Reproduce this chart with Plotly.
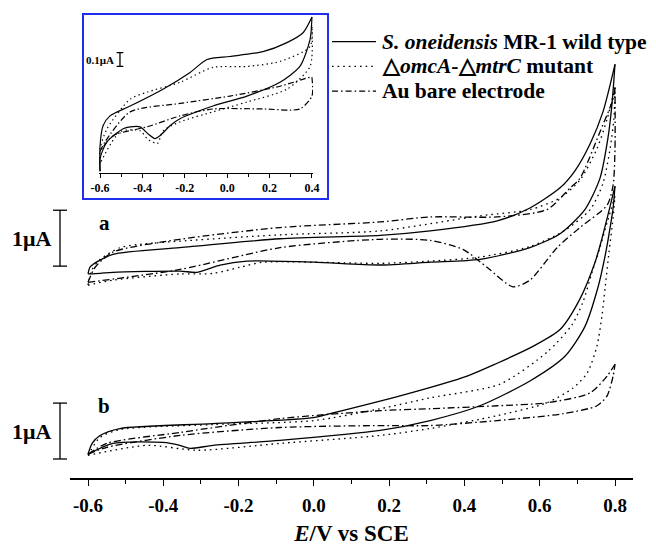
import plotly.graph_objects as go

# ---------------- data: potentials (V vs SCE) and currents (uA, stacked offsets) ----------------
# Panel a (main plot, upper set)
a_wt_up_E = [-0.60, -0.595, -0.587, -0.534, -0.356, -0.09, 0.176, 0.309, 0.487, 0.574, 0.654, 0.694, 0.734, 0.768, 0.80]
a_wt_up_I = [3.65, 3.77, 3.82, 4.00, 4.12, 4.28, 4.34, 4.42, 4.60, 4.83, 5.19, 5.50, 5.98, 6.55, 7.40]
a_wt_lo_E = [-0.60, -0.568, -0.534, -0.356, -0.31, -0.249, -0.178, 0.0, 0.176, 0.309, 0.441, 0.574, 0.654, 0.72, 0.76, 0.781, 0.792, 0.80]
a_wt_lo_I = [3.65, 3.66, 3.68, 3.70, 3.68, 3.81, 3.88, 3.86, 3.81, 3.86, 3.91, 4.12, 4.37, 4.80, 5.36, 6.07, 6.69, 7.40]

a_mu_up_E = [-0.60, -0.589, -0.568, -0.515, -0.462, -0.09, 0.176, 0.441, 0.574, 0.654, 0.707, 0.752, 0.779, 0.80]
a_mu_up_I = [3.45, 3.73, 3.91, 4.12, 4.18, 4.35, 4.42, 4.69, 4.80, 5.01, 5.33, 5.89, 6.42, 6.99]
a_mu_lo_E = [-0.60, -0.534, -0.356, -0.268, -0.196, -0.135, 0.176, 0.309, 0.441, 0.574, 0.662, 0.734, 0.768, 0.787, 0.797, 0.80]
a_mu_lo_I = [3.45, 3.54, 3.65, 3.66, 3.77, 3.86, 3.84, 3.88, 3.95, 4.14, 4.41, 4.80, 5.27, 5.89, 6.42, 6.99]

a_au_up_E = [-0.60, -0.581, -0.534, -0.356, -0.09, 0.176, 0.309, 0.487, 0.619, 0.681, 0.707, 0.760, 0.795, 0.80]
a_au_up_I = [3.50, 3.77, 4.04, 4.27, 4.48, 4.58, 4.67, 4.67, 4.80, 5.19, 5.36, 6.19, 6.78, 6.99]
a_au_lo_E = [-0.60, -0.356, -0.09, 0.176, 0.309, 0.396, 0.460, 0.529, 0.574, 0.646, 0.707, 0.779, 0.795, 0.80, 0.80]
a_au_lo_I = [3.50, 3.73, 4.12, 4.27, 4.25, 4.09, 3.77, 3.42, 3.54, 4.12, 4.48, 4.88, 5.24, 5.89, 6.99]

# Panel b (main plot, lower set)
b_wt_up_E = [-0.60, -0.589, -0.568, -0.515, -0.268, 0.0, 0.043, 0.229, 0.407, 0.487, 0.582, 0.654, 0.707, 0.747, 0.766, 0.784, 0.80]
b_wt_up_I = [0.425, 0.62, 0.76, 0.885, 0.973, 1.08, 1.15, 1.469, 1.823, 2.053, 2.354, 2.655, 3.204, 3.858, 4.30, 4.779, 5.221]
b_wt_lo_E = [-0.60, -0.534, -0.401, -0.356, -0.329, -0.268, -0.09, 0.176, 0.309, 0.441, 0.574, 0.667, 0.720, 0.755, 0.774, 0.787, 0.795, 0.80]
b_wt_lo_I = [0.425, 0.62, 0.637, 0.584, 0.531, 0.584, 0.673, 0.85, 1.027, 1.292, 1.735, 2.177, 2.708, 3.416, 3.982, 4.478, 4.832, 5.221]

b_mu_up_E = [-0.60, -0.568, -0.515, -0.268, 0.0, 0.176, 0.309, 0.495, 0.622, 0.686, 0.715, 0.739, 0.760, 0.779, 0.80]
b_mu_up_I = [0.407, 0.726, 0.867, 0.956, 1.027, 1.239, 1.434, 1.681, 2.265, 2.743, 3.150, 3.681, 4.124, 4.566, 5.044]
b_mu_lo_E = [-0.60, -0.443, -0.310, -0.09, 0.176, 0.309, 0.487, 0.619, 0.689, 0.726, 0.752, 0.766, 0.774, 0.784, 0.795, 0.80]
b_mu_lo_I = [0.407, 0.584, 0.496, 0.619, 0.761, 0.885, 1.115, 1.345, 1.611, 1.876, 2.354, 2.938, 3.416, 4.035, 4.655, 5.044]

b_au_up_E = [-0.60, -0.550, -0.356, -0.09, 0.176, 0.309, 0.487, 0.619, 0.734, 0.779, 0.80]
b_au_up_I = [0.425, 0.62, 0.814, 1.062, 1.204, 1.239, 1.292, 1.345, 1.522, 1.823, 2.035]
b_au_lo_E = [-0.60, -0.550, -0.356, -0.09, 0.176, 0.309, 0.487, 0.662, 0.752, 0.779, 0.795, 0.80]
b_au_lo_I = [0.425, 0.549, 0.761, 0.903, 0.938, 0.938, 1.027, 1.150, 1.292, 1.469, 1.823, 2.035]

# Inset (enlarged view, -0.6 .. 0.4 V)
in_wt_up_E = [-0.60, -0.60, -0.586, -0.553, -0.458, -0.303, -0.175, -0.095, 0.013, 0.169, 0.282, 0.358, 0.40]
in_wt_up_I = [0.0, 0.186, 0.329, 0.40, 0.471, 0.593, 0.714, 0.807, 0.829, 0.864, 0.929, 1.0, 1.114]
in_wt_lo_E = [0.40, 0.391, 0.343, 0.249, 0.093, -0.067, -0.223, -0.270, -0.317, -0.341, -0.374, -0.411, -0.458, -0.491, -0.567, -0.60, -0.60]
in_wt_lo_I = [1.114, 0.95, 0.757, 0.643, 0.543, 0.471, 0.379, 0.329, 0.257, 0.236, 0.271, 0.321, 0.321, 0.307, 0.214, 0.093, 0.0]

in_mu_up_E = [-0.60, -0.60, -0.567, -0.458, -0.378, -0.222, -0.067, 0.093, 0.249, 0.391, 0.40]
in_mu_up_I = [0.057, 0.164, 0.307, 0.521, 0.571, 0.643, 0.75, 0.757, 0.793, 0.90, 1.043]
in_mu_lo_E = [0.40, 0.391, 0.282, 0.093, -0.067, -0.222, -0.302, -0.330, -0.378, -0.411, -0.505, -0.60]
in_mu_lo_I = [1.043, 0.757, 0.593, 0.50, 0.429, 0.357, 0.293, 0.20, 0.236, 0.293, 0.286, 0.057]

in_au_up_E = [-0.60, -0.576, -0.458, -0.222, 0.013, 0.249, 0.391, 0.40]
in_au_up_I = [0.143, 0.214, 0.429, 0.49, 0.543, 0.614, 0.679, 0.679]
in_au_lo_E = [0.40, 0.40, 0.343, 0.169, -0.067, -0.222, -0.378, -0.538, -0.60]
in_au_lo_I = [0.679, 0.543, 0.45, 0.45, 0.45, 0.40, 0.321, 0.257, 0.143]

# Axis ticks
main_tickvals = [-0.6, -0.4, -0.2, 0.0, 0.2, 0.4, 0.6, 0.8]
main_ticktext = ["-0.6", "-0.4", "-0.2", "0.0", "0.2", "0.4", "0.6", "0.8"]
inset_tickvals = [-0.6, -0.4, -0.2, 0.0, 0.2, 0.4]
inset_ticktext = ["-0.6", "-0.4", "-0.2", "0.0", "0.2", "0.4"]

legend_names = ["<i>S. oneidensis</i> MR-1 wild type",
                "\u25b3<i>omcA</i>-\u25b3<i>mtrC</i> mutant",
                "Au bare electrode"]
panel_labels = ["a", "b"]
scale_bar_base = [3.79, 0.34]     # bottom of each 1 uA bar, uA on the main axis
scale_bar_size = 1.0              # uA
inset_bar_base = 0.757            # uA on inset axis
inset_bar_size = 0.1              # uA

# ---------------- layout geometry ----------------
W, H = 656, 552
ML, MR, MT, MB = 70, 23, 10, 69
PW, PH = W - ML - MR, H - MT - MB
Y_TOP = PH / 56.5                 # main y range top (uA); 1 uA spans 56.5 px
SERIF = "Liberation Serif, Times New Roman, serif"


def pxx(px):
    return (px - ML) / PW


def pxy(py):
    return (H - MB - py) / PH


DOT = "1.6px,4px"
DASHDOT = "7px,3px,1.6px,3px"
IN_DOT = "1.4px,3.2px"
IN_DASHDOT = "6px,2.5px,1.4px,2.5px"

fig = go.Figure()


def add_curve(E, I, dash, xa="x", ya="y", width=1.3):
    fig.add_trace(go.Scatter(
        x=E, y=I, mode="lines", xaxis=xa, yaxis=ya, showlegend=False,
        line=dict(color="black", width=width, dash=dash, shape="spline", smoothing=0.7),
        hoverinfo="skip"))


main_sets = [
    (a_wt_up_E, a_wt_up_I, "solid"), (a_wt_lo_E, a_wt_lo_I, "solid"),
    (a_mu_up_E, a_mu_up_I, DOT), (a_mu_lo_E, a_mu_lo_I, DOT),
    (a_au_up_E, a_au_up_I, DASHDOT), (a_au_lo_E, a_au_lo_I, DASHDOT),
    (b_wt_up_E, b_wt_up_I, "solid"), (b_wt_lo_E, b_wt_lo_I, "solid"),
    (b_mu_up_E, b_mu_up_I, DOT), (b_mu_lo_E, b_mu_lo_I, DOT),
    (b_au_up_E, b_au_up_I, DASHDOT), (b_au_lo_E, b_au_lo_I, DASHDOT),
]
for E, I, d in main_sets:
    add_curve(E, I, d)

inset_sets = [
    (in_wt_up_E, in_wt_up_I, "solid"), (in_wt_lo_E, in_wt_lo_I, "solid"),
    (in_mu_up_E, in_mu_up_I, IN_DOT), (in_mu_lo_E, in_mu_lo_I, IN_DOT),
    (in_au_up_E, in_au_up_I, IN_DASHDOT), (in_au_lo_E, in_au_lo_I, IN_DASHDOT),
]
for E, I, d in inset_sets:
    add_curve(E, I, d, xa="x2", ya="y2", width=1.2)

tick_font = dict(family=SERIF, size=19, color="black", weight="bold")

fig.update_layout(
    width=W, height=H,
    margin=dict(l=ML, r=MR, t=MT, b=MB),
    paper_bgcolor="white", plot_bgcolor="white",
    xaxis=dict(
        range=[-0.6 - 18 / 376.4, 0.8 + 18 / 376.4], domain=[0, 1],
        showline=True, linecolor="black", linewidth=1.5, mirror=False,
        showgrid=False, zeroline=False,
        ticks="outside", ticklen=6, tickwidth=1.3, tickcolor="black",
        tickmode="array", tickvals=main_tickvals, ticktext=main_ticktext,
        tickfont=tick_font, ticklabelstandoff=3,
        minor=dict(tickmode="linear", tick0=-0.6, dtick=0.1, ticks="outside",
                   ticklen=4, tickwidth=1.3, tickcolor="black", showgrid=False),
        title=dict(text="<i>E</i>/V vs SCE", standoff=10,
                   font=dict(family=SERIF, size=23, color="black", weight="bold")),
    ),
    yaxis=dict(range=[0, Y_TOP], visible=False, domain=[0, 1]),
    xaxis2=dict(
        range=[-0.605, 0.405], domain=[pxx(99), pxx(313)], anchor="y2",
        showline=True, linecolor="black", linewidth=1.3,
        showgrid=False, zeroline=False,
        ticks="outside", ticklen=4, tickwidth=1.1, tickcolor="black",
        tickmode="array", tickvals=inset_tickvals, ticktext=inset_ticktext,
        tickfont=dict(family=SERIF, size=12, color="black", weight="bold"),
        minor=dict(tickmode="linear", tick0=-0.6, dtick=0.1, ticks="outside",
                   ticklen=3, tickwidth=1.1, tickcolor="black", showgrid=False),
    ),
    yaxis2=dict(range=[-0.01, 1.136], domain=[pxy(174.4), pxy(14)], anchor="x2",
                visible=False),
)

shapes = []
annotations = []

# Inset frame
shapes.append(dict(type="rect", xref="paper", yref="paper",
                   x0=pxx(83), x1=pxx(328), y0=pxy(201), y1=pxy(14),
                   line=dict(color="#1f2ff0", width=2), fillcolor="rgba(0,0,0,0)",
                   layer="above"))

# Legend: line samples and labels
legend_dash_px = ["solid", "1.6px,4px", "6px,3px,1.6px,3px"]
legend_rows = [42, 67, 92]
for name, dsh, row in zip(legend_names, legend_dash_px, legend_rows):
    shapes.append(dict(type="line", xref="paper", yref="paper",
                       x0=pxx(332), x1=pxx(376), y0=pxy(row), y1=pxy(row),
                       line=dict(color="black", width=1.4, dash=dsh)))
    annotations.append(dict(xref="paper", yref="paper", x=pxx(380), y=pxy(row),
                            text=name, showarrow=False, xanchor="left", yanchor="middle",
                            font=dict(family=SERIF, size=21.5, color="black", weight="bold")))

# Scale bars (1 uA) and panel labels
uA_paper = scale_bar_size / Y_TOP
for lab, base, lab_py in zip(panel_labels, scale_bar_base, [225, 410]):
    y0 = base / Y_TOP
    y1 = y0 + uA_paper
    shapes.append(dict(type="line", xref="paper", yref="paper",
                       x0=pxx(60), x1=pxx(60), y0=y0, y1=y1,
                       line=dict(color="black", width=1.3)))
    for yy in (y0, y1):
        shapes.append(dict(type="line", xref="paper", yref="paper",
                           x0=pxx(53), x1=pxx(67), y0=yy, y1=yy,
                           line=dict(color="black", width=1.3)))
    annotations.append(dict(xref="paper", yref="paper", x=pxx(53), y=(y0 + y1) / 2,
                            text="1\u03bcA", showarrow=False, xanchor="right", yanchor="middle",
                            font=dict(family=SERIF, size=22, color="black", weight="bold")))
    annotations.append(dict(xref="paper", yref="paper", x=pxx(104), y=pxy(lab_py),
                            text=lab, showarrow=False, xanchor="center", yanchor="middle",
                            font=dict(family=SERIF, size=21, color="black", weight="bold")))

# Inset 0.1 uA scale bar
bar_x = -0.506
shapes.append(dict(type="line", xref="x2", yref="y2", x0=bar_x, x1=bar_x,
                   y0=inset_bar_base, y1=inset_bar_base + inset_bar_size,
                   line=dict(color="black", width=1.3)))
for yy in (inset_bar_base, inset_bar_base + inset_bar_size):
    shapes.append(dict(type="line", xref="x2", yref="y2", x0=bar_x - 0.016, x1=bar_x + 0.016,
                       y0=yy, y1=yy, line=dict(color="black", width=1.3)))
annotations.append(dict(xref="x2", yref="y2", x=bar_x - 0.02,
                        y=inset_bar_base + inset_bar_size / 2,
                        text="0.1\u03bcA", showarrow=False, xanchor="right", yanchor="middle",
                        font=dict(family=SERIF, size=11, color="black", weight="bold")))

fig.update_layout(shapes=shapes, annotations=annotations)

fig.write_html("out.html")
